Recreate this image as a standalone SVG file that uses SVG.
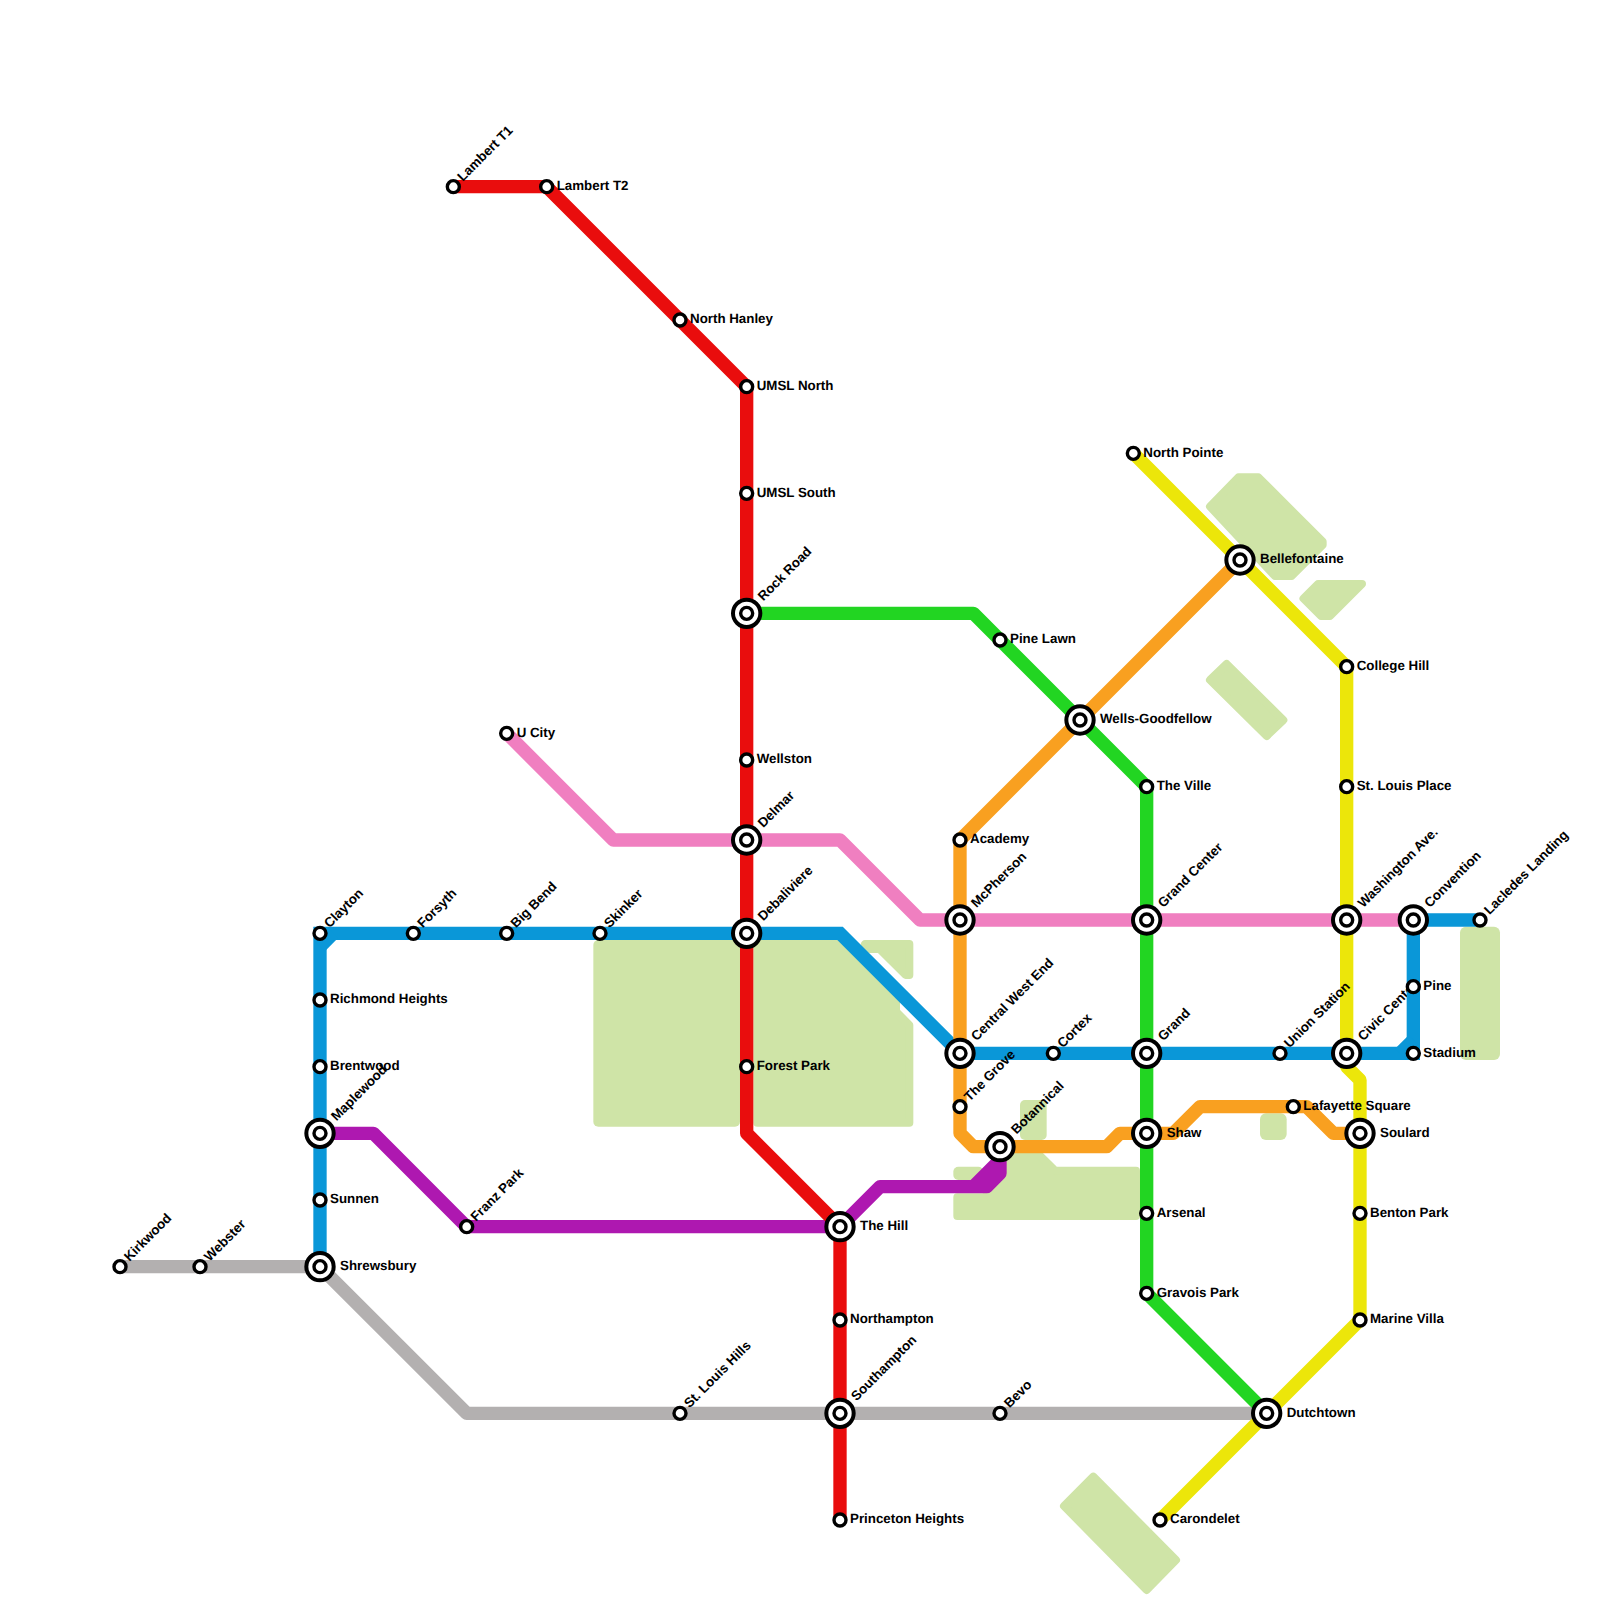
<svg xmlns="http://www.w3.org/2000/svg" width="1600" height="1600" viewBox="0 0 1600 1600">
<style>
text{font-family:"Liberation Sans",Arial,sans-serif;font-weight:bold;font-size:13.33px;fill:#000;text-rendering:geometricPrecision}
.park{fill:#cfe4a7;stroke:none}
.pk{fill:#cfe4a7;stroke:#cfe4a7;stroke-width:8;stroke-linejoin:round}
.ln{fill:none;stroke-width:1;stroke-linejoin:round}
.m{stroke-linejoin:miter}
.red{stroke:#e90d0d}.blue{stroke:#0a97d8}.green{stroke:#22d522}.pink{stroke:#f07fc0}.orange{stroke:#f9a020}.yellow{stroke:#ece60a}.mag{stroke:#ae18b0}.gray{stroke:#b3b0b0}
.o{fill:#fff;stroke:#000;stroke-width:3.4}
.o2{fill:#fff;stroke:#000;stroke-width:4}
</style>
<defs>
<g id="st"><circle class="o" r="6"/></g>
<g id="ix"><circle class="o2" r="13.67"/><circle class="o" r="6"/></g>
</defs>
<g id="parks">
<rect class="park" x="593.33" y="940" width="146.67" height="186.67" rx="5"/>
<polygon class="pk" points="757.33,944 846,944 896,994 896,1011.66 909.33,1025 909.33,1122.67 757.33,1122.67"/>
<polygon class="pk" points="865,944 909.33,944 909.33,975 905.66,975 879.5,949 870,949"/>
<rect class="park" x="1020" y="1100" width="26.67" height="40" rx="5"/>
<rect class="park" x="953.33" y="1166.67" width="30" height="13.33" rx="5"/>
<polygon class="pk" points="1002,1150 1034.3,1150 1055,1170.67 1136,1170.67 1136,1216 957.33,1216 957.33,1197.33 985,1197.33 1000,1172"/>
<rect class="park" x="1260" y="1113.33" width="26.67" height="26.67" rx="6"/>
<rect class="park" x="1460" y="926.67" width="40" height="133.33" rx="6"/>
<polygon class="pk" points="1238.5,477.33 1258.33,477.33 1322.67,541.67 1322.67,545 1291.67,576 1275,576 1210,506.5"/>
<polygon class="pk" points="1318,584 1362,584 1330,616 1321,616 1303.5,598.5"/>
<polygon class="pk" points="1226.67,664 1283.33,720 1266.67,736 1210,680"/>
<polygon class="pk" points="1093.3,1476.67 1176,1560 1146.67,1590 1064,1506"/>
</g>
<text id="civic-center-label" transform="translate(1346.67,1053.33) rotate(-45)" x="20" y="3.3">Civic Center</text>
<g id="connectors" transform="scale(13.33333)">
<path class="ln gray" d="M9,95 L24,95 L35,106 L95,106"/>
<path class="ln green" d="M56,46 L73,46 L86,59 L86,97 L95,106"/>
<path class="ln pink" d="M38,55 L46,63 L63,63 L69,69 L106,69"/>
<path class="ln blue m" d="M24,95 L24,70 L63,70 L72,79 L106,79 L106,69 L111,69"/>
<path class="ln blue" d="M25,70 L24,71 M106,78 L105,79"/>
<path class="ln orange" d="M93,42 L72,63 L72,85 L73,86 L83,86 L84,85 L88,85 L90,83 L98,83 L100,85 L102,85"/>
<path class="ln yellow" d="M85,34 L101,50 L101,80 L102,81 L102,99 L87,114"/>
<path class="ln mag" d="M24,85 L28,85 L35,92 L63,92 L66,89 L74,89 L75,88 L75,86 M73,89 L75,87"/>
<path class="ln red" d="M34,14 L41,14 L56,29 L56,85 L63,92 L63,114"/>
</g>
<g id="kirkwood" transform="translate(120,1266.67)"><use href="#st"/><text x="10" y="3.3" transform="rotate(-45)">Kirkwood</text></g>
<g id="webster" transform="translate(200,1266.67)"><use href="#st"/><text x="10" y="3.3" transform="rotate(-45)">Webster</text></g>
<g id="shrewsbury" transform="translate(320,1266.67)"><use href="#ix"/><text x="20" y="3.3">Shrewsbury</text></g>
<g id="st-louis-hills" transform="translate(680,1413.33)"><use href="#st"/><text x="10" y="3.3" transform="rotate(-45)">St. Louis Hills</text></g>
<g id="southampton" transform="translate(840,1413.33)"><use href="#ix"/><text x="20" y="3.3" transform="rotate(-45)">Southampton</text></g>
<g id="bevo" transform="translate(1000,1413.33)"><use href="#st"/><text x="10" y="3.3" transform="rotate(-45)">Bevo</text></g>
<g id="dutchtown" transform="translate(1266.67,1413.33)"><use href="#ix"/><text x="20" y="3.3">Dutchtown</text></g>
<g id="lambert-t1" transform="translate(453.33,186.67)"><use href="#st"/><text x="10" y="3.3" transform="rotate(-45)">Lambert T1</text></g>
<g id="lambert-t2" transform="translate(546.67,186.67)"><use href="#st"/><text x="10" y="3.3">Lambert T2</text></g>
<g id="north-hanley" transform="translate(680,320)"><use href="#st"/><text x="10" y="3.3">North Hanley</text></g>
<g id="umsl-north" transform="translate(746.67,386.67)"><use href="#st"/><text x="10" y="3.3">UMSL North</text></g>
<g id="umsl-south" transform="translate(746.67,493.33)"><use href="#st"/><text x="10" y="3.3">UMSL South</text></g>
<g id="rock-road" transform="translate(746.67,613.33)"><use href="#ix"/><text x="20" y="3.3" transform="rotate(-45)">Rock Road</text></g>
<g id="wellston" transform="translate(746.67,760)"><use href="#st"/><text x="10" y="3.3">Wellston</text></g>
<g id="delmar" transform="translate(746.67,840)"><use href="#ix"/><text x="20" y="3.3" transform="rotate(-45)">Delmar</text></g>
<g id="debaliviere" transform="translate(746.67,933.33)"><use href="#ix"/><text x="20" y="3.3" transform="rotate(-45)">Debaliviere</text></g>
<g id="forest-park" transform="translate(746.67,1066.67)"><use href="#st"/><text x="10" y="3.3">Forest Park</text></g>
<g id="the-hill" transform="translate(840,1226.67)"><use href="#ix"/><text x="20" y="3.3">The Hill</text></g>
<g id="northampton" transform="translate(840,1320)"><use href="#st"/><text x="10" y="3.3">Northampton</text></g>
<g id="princeton-heights" transform="translate(840,1520)"><use href="#st"/><text x="10" y="3.3">Princeton Heights</text></g>
<g id="clayton" transform="translate(320,933.33)"><use href="#st"/><text x="10" y="3.3" transform="rotate(-45)">Clayton</text></g>
<g id="forsyth" transform="translate(413.33,933.33)"><use href="#st"/><text x="10" y="3.3" transform="rotate(-45)">Forsyth</text></g>
<g id="big-bend" transform="translate(506.67,933.33)"><use href="#st"/><text x="10" y="3.3" transform="rotate(-45)">Big Bend</text></g>
<g id="skinker" transform="translate(600,933.33)"><use href="#st"/><text x="10" y="3.3" transform="rotate(-45)">Skinker</text></g>
<g id="richmond-heights" transform="translate(320,1000)"><use href="#st"/><text x="10" y="3.3">Richmond Heights</text></g>
<g id="brentwood" transform="translate(320,1066.67)"><use href="#st"/><text x="10" y="3.3">Brentwood</text></g>
<g id="maplewood" transform="translate(320,1133.33)"><use href="#ix"/><text x="20" y="3.3" transform="rotate(-45)">Maplewood</text></g>
<g id="sunnen" transform="translate(320,1200)"><use href="#st"/><text x="10" y="3.3">Sunnen</text></g>
<g id="franz-park" transform="translate(466.67,1226.67)"><use href="#st"/><text x="10" y="3.3" transform="rotate(-45)">Franz Park</text></g>
<g id="u-city" transform="translate(506.67,733.33)"><use href="#st"/><text x="10" y="3.3">U City</text></g>
<g id="pine-lawn" transform="translate(1000,640)"><use href="#st"/><text x="10" y="3.3">Pine Lawn</text></g>
<g id="wells-goodfellow" transform="translate(1080,720)"><use href="#ix"/><text x="20" y="3.3">Wells-Goodfellow</text></g>
<g id="the-ville" transform="translate(1146.67,786.67)"><use href="#st"/><text x="10" y="3.3">The Ville</text></g>
<g id="grand-center" transform="translate(1146.67,920)"><use href="#ix"/><text x="20" y="3.3" transform="rotate(-45)">Grand Center</text></g>
<g id="grand" transform="translate(1146.67,1053.33)"><use href="#ix"/><text x="20" y="3.3" transform="rotate(-45)">Grand</text></g>
<g id="shaw" transform="translate(1146.67,1133.33)"><use href="#ix"/><text x="20" y="3.3">Shaw</text></g>
<g id="arsenal" transform="translate(1146.67,1213.33)"><use href="#st"/><text x="10" y="3.3">Arsenal</text></g>
<g id="gravois-park" transform="translate(1146.67,1293.33)"><use href="#st"/><text x="10" y="3.3">Gravois Park</text></g>
<g id="academy" transform="translate(960,840)"><use href="#st"/><text x="10" y="3.3">Academy</text></g>
<g id="mcpherson" transform="translate(960,920)"><use href="#ix"/><text x="20" y="3.3" transform="rotate(-45)">McPherson</text></g>
<g id="central-west-end" transform="translate(960,1053.33)"><use href="#ix"/><text x="20" y="3.3" transform="rotate(-45)">Central West End</text></g>
<g id="the-grove" transform="translate(960,1106.67)"><use href="#st"/><text x="10" y="3.3" transform="rotate(-45)">The Grove</text></g>
<g id="botannical" transform="translate(1000,1146.67)"><use href="#ix"/><text x="20" y="3.3" transform="rotate(-45)">Botannical</text></g>
<g id="cortex" transform="translate(1053.33,1053.33)"><use href="#st"/><text x="10" y="3.3" transform="rotate(-45)">Cortex</text></g>
<g id="north-pointe" transform="translate(1133.33,453.33)"><use href="#st"/><text x="10" y="3.3">North Pointe</text></g>
<g id="bellefontaine" transform="translate(1240,560)"><use href="#ix"/><text x="20" y="3.3">Bellefontaine</text></g>
<g id="college-hill" transform="translate(1346.67,666.67)"><use href="#st"/><text x="10" y="3.3">College Hill</text></g>
<g id="st-louis-place" transform="translate(1346.67,786.67)"><use href="#st"/><text x="10" y="3.3">St. Louis Place</text></g>
<g id="washington-ave" transform="translate(1346.67,920)"><use href="#ix"/><text x="20" y="3.3" transform="rotate(-45)">Washington Ave.</text></g>
<g id="civic-center" transform="translate(1346.67,1053.33)"><use href="#ix"/></g>
<g id="convention" transform="translate(1413.33,920)"><use href="#ix"/><text x="20" y="3.3" transform="rotate(-45)">Convention</text></g>
<g id="pine" transform="translate(1413.33,986.67)"><use href="#st"/><text x="10" y="3.3">Pine</text></g>
<g id="stadium" transform="translate(1413.33,1053.33)"><use href="#st"/><text x="10" y="3.3">Stadium</text></g>
<g id="lacledes-landing" transform="translate(1480,920)"><use href="#st"/><text x="10" y="3.3" transform="rotate(-45)">Lacledes Landing</text></g>
<g id="union-station" transform="translate(1280,1053.33)"><use href="#st"/><text x="10" y="3.3" transform="rotate(-45)">Union Station</text></g>
<g id="lafayette-square" transform="translate(1293.33,1106.67)"><use href="#st"/><text x="10" y="3.3">Lafayette Square</text></g>
<g id="soulard" transform="translate(1360,1133.33)"><use href="#ix"/><text x="20" y="3.3">Soulard</text></g>
<g id="benton-park" transform="translate(1360,1213.33)"><use href="#st"/><text x="10" y="3.3">Benton Park</text></g>
<g id="marine-villa" transform="translate(1360,1320)"><use href="#st"/><text x="10" y="3.3">Marine Villa</text></g>
<g id="carondelet" transform="translate(1160,1520)"><use href="#st"/><text x="10" y="3.3">Carondelet</text></g>
</svg>
